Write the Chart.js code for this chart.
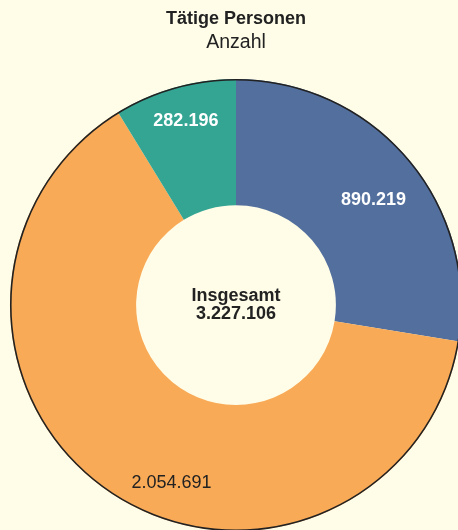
<!DOCTYPE html>
<html>
<head>
<meta charset="utf-8">
<script src="https://cdn.jsdelivr.net/npm/chart.js@4"></script>
<style>
  body { margin: 0; background: #fffde8; }
  #wrap { width: 458px; height: 530px; overflow: hidden; position: relative; }
  #chart { position: absolute; left: 0; top: 0; }
</style>
</head>
<body>
<div id="wrap"><canvas id="chart" width="472" height="540"></canvas></div>
<script>
const labels = ['Gruppe A', 'Gruppe B', 'Gruppe C'];
const values = [890219, 2054691, 282196];
const valueText = ['890.219', '2.054.691', '282.196'];
const totalLabel = 'Insgesamt';
const totalText = '3.227.106';

const colors = ['#536f9e', '#f9aa56', '#34a593'];
const labelColors = ['#ffffff', '#222222', '#ffffff'];
const labelBold = [true, false, true];
// where along the ring the label sits (0 = inner edge, 1 = outer edge) and a small angle nudge in degrees
const labelRing = [0.58, 0.71, 0.72];
const labelNudge = [3, -14, 0.5];

const FONT = '"Liberation Sans", Arial, sans-serif';

const outerBorder = {
  id: 'outerBorder',
  afterDatasetsDraw(chart) {
    const arc = chart.getDatasetMeta(0).data[0];
    const c = chart.ctx;
    c.save();
    c.beginPath();
    c.arc(arc.x, arc.y, arc.outerRadius - 0.75, 0, Math.PI * 2);
    c.lineWidth = 1.6;
    c.strokeStyle = '#222';
    c.stroke();
    c.restore();
  }
};

const sliceLabels = {
  id: 'sliceLabels',
  afterDatasetsDraw(chart) {
    const c = chart.ctx;
    const arcs = chart.getDatasetMeta(0).data;
    c.save();
    c.textAlign = 'center';
    c.textBaseline = 'middle';
    arcs.forEach((arc, i) => {
      const a = (arc.startAngle + arc.endAngle) / 2 + labelNudge[i] * Math.PI / 180;
      const r = arc.innerRadius + labelRing[i] * (arc.outerRadius - arc.innerRadius);
      c.font = (labelBold[i] ? 'bold ' : '') + '18px ' + FONT;
      c.fillStyle = labelColors[i];
      c.fillText(valueText[i], arc.x + r * Math.cos(a), arc.y + r * Math.sin(a));
    });
    const arc = arcs[0];
    c.font = 'bold 18px ' + FONT;
    c.fillStyle = '#222';
    c.fillText(totalLabel, arc.x, arc.y - 9);
    c.fillText(totalText, arc.x, arc.y + 9);
    c.restore();
  }
};

new Chart(document.getElementById('chart'), {
  type: 'doughnut',
  data: {
    labels: labels,
    datasets: [{
      data: values,
      backgroundColor: colors,
      borderWidth: 0
    }]
  },
  options: {
    responsive: false,
    animation: false,
    cutout: '44.2%',
    layout: { padding: { left: 10, right: 10, top: 0, bottom: 9 } },
    plugins: {
      legend: { display: false },
      tooltip: { enabled: false },
      title: {
        display: true,
        text: 'Tätige Personen',
        color: '#222',
        font: { family: FONT, size: 18, weight: 'bold', lineHeight: 1.2 },
        padding: { top: 8, bottom: 0 }
      },
      subtitle: {
        display: true,
        text: 'Anzahl',
        color: '#222',
        font: { family: FONT, size: 19.5, weight: 'normal', lineHeight: 1.1 },
        padding: { top: 2, bottom: 26 }
      }
    }
  },
  plugins: [outerBorder, sliceLabels]
});
</script>
</body>
</html>
